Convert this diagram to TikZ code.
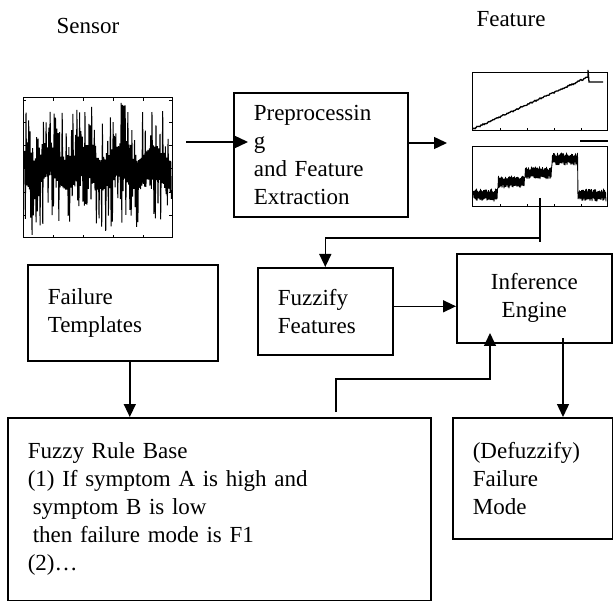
\documentclass[tikz,border=0pt]{standalone}
\usepackage{fontspec}
\setmainfont{Liberation Serif}
\usetikzlibrary{arrows.meta}
\tikzstyle{box} = [
    rectangle,
    draw=black,
    line width=1.6pt,
    anchor=north west,
    align=left,
    inner xsep=20pt,
    inner ysep=0pt,
    font=\fontsize{23}{28}\selectfont
]
\tikzstyle{title} = [
    font=\fontsize{23}{28}\selectfont
]
\tikzstyle{plotframe} = [
    draw=black,
    line width=1pt
]
\tikzstyle{arrow} = [line width=1.4pt,-{Triangle[length=13pt,width=12pt]}]

\begin{document}
\begin{tikzpicture}[x=1pt,y=-1pt]
\useasboundingbox (0,0) rectangle (613,601);

\node (sensor) [title] at (88,26) {Sensor};

\node (feature) [title] at (511,19) {Feature};

\draw [plotframe] (23,98) rectangle (172,238);
\foreach \ty in {100,122,145,168,192,215} {
    \draw (23,\ty) -- (26,\ty);
    \draw (172,\ty) -- (169,\ty);
}
\foreach \tx in {53,83,113,143} {
    \draw (\tx,238) -- (\tx,235);
    \draw (\tx,98) -- (\tx,101);
}
\pgfmathsetseed{12}
\draw [line width=1pt] (24,168) \foreach \i in {1,...,220} {
    -- ({24+\i*0.67},{168+7*sin(\i*7)+ifthenelse(mod(\i,2)==0,1,-1)*(14+48*rnd^3)})
};

\draw [plotframe] (472,73) rectangle (607,131);
\draw [plotframe] (472,147) rectangle (607,207);
\foreach \tx in {500,527,554,581} {
    \draw (\tx,131) -- (\tx,128);
    \draw (\tx,207) -- (\tx,204);
}
\draw [line width=1.3pt] (473,129) \foreach \i in {1,...,115} {
    -- ({473+\i},{129-\i*0.452+1.6*rnd-0.8})
} -- (588,70) -- (589,82) -- (603,82);
\draw [line width=0.9pt] (473,195) \foreach \i in {1,...,266} {
    -- ({473+\i*0.5},{ifthenelse(473+\i*0.5<498,195,ifthenelse(473+\i*0.5<525,182,ifthenelse(473+\i*0.5<552,173,ifthenelse(473+\i*0.5<578,159,195))))+ifthenelse(mod(\i,2)==0,1,-1)*(3+3.5*rnd)})
};
\draw [line width=1.4pt] (580,141) -- (608,141);

\node (pre) [box, minimum width=174pt, minimum height=124pt, text width=134pt] at (233,92)
{Preprocessin\\g\\and Feature\\Extraction};

\node (fuzz) [box, minimum width=135pt, minimum height=87pt, text width=95pt] at (257,267)
{Fuzzify\\Features};

\node (inf) [box, align=center, minimum width=155pt, minimum height=89pt, text width=115pt] at (456,253)
{Inference\\Engine};

\node (tmpl) [box, minimum width=190pt, minimum height=96pt, text width=150pt] at (27,264)
{Failure\\Templates};

\node (rule) [box, minimum width=423pt, minimum height=183pt, text width=383pt] at (7,417)
{Fuzzy Rule Base\\(1) If symptom A is high and\\\hspace*{5pt}symptom B is low\\\hspace*{5pt}then failure mode is F1\\(2)…};

\node (def) [box, minimum width=160pt, minimum height=121pt, text width=120pt] at (452,417)
{(Defuzzify)\\Failure\\Mode};

\coordinate (sensout) at (186,142);
\coordinate (featin) at (447,143);
\coordinate (featout) at (540,198);
\coordinate (split) at (540,238);
\coordinate (fuzzout) at ([yshift=5pt]fuzz.east);
\coordinate (tmplout) at ([xshift=7pt]tmpl.south);
\coordinate (rulefb) at (336,412);
\coordinate (bend) at (490,379);
\coordinate (infin) at (490,333);
\coordinate (infout) at (563,338);

\draw [arrow] (sensout) -- (sensout -| pre.west) -- ++(15,0);
\draw [arrow] (pre.east |- featin) -- (featin);
\draw [line width=1.4pt] (featout) -- ++(0,44);
\draw [arrow] (split) -| (fuzz.north);
\draw [arrow] (fuzzout) -- (fuzzout -| inf.west);
\draw [arrow] (tmplout) -- (tmplout |- rule.north);
\draw [arrow] (rulefb) |- (bend) -- (infin);
\draw [arrow] (infout) -- (infout |- def.north);

\end{tikzpicture}
\end{document}
